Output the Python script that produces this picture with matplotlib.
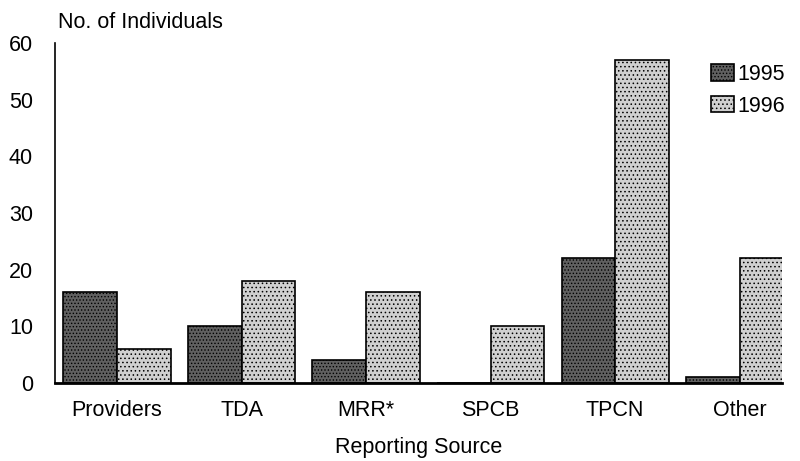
import matplotlib.pyplot as plt
import numpy as np

plt.rcParams['font.family'] = ['Liberation Sans', 'DejaVu Sans']
plt.rcParams['hatch.linewidth'] = 0.6

categories = ['Providers', 'TDA', 'MRR*', 'SPCB', 'TPCN', 'Other']
vals_1995 = [16, 10, 4, 0, 22, 1]
vals_1996 = [6, 18, 16, 10, 57, 22]
yticks = [0, 10, 20, 30, 40, 50, 60]

fs = 15.5

fig = plt.figure(figsize=(8, 4.61), dpi=100)
ax = fig.add_axes([0.069, 0.169, 0.9085, 0.738])

x = np.arange(len(categories))
w = 0.43
ax.bar(x - w / 2, vals_1995, w, facecolor='#606060', edgecolor='black',
       linewidth=1.2, hatch='.....', label='1995')
ax.bar(x + w / 2, vals_1996, w, facecolor='#d0d0d0', edgecolor='black',
       linewidth=1.2, hatch='....', label='1996')

ax.set_xlim(-0.496, 5.34)
ax.set_ylim(0, 60)
ax.set_yticks(yticks)
ax.set_xticks(x)
ax.set_xticklabels(categories, fontsize=fs)
ax.tick_params(axis='y', length=0, labelsize=fs, pad=16)
ax.tick_params(axis='x', length=0, pad=12)
for s in ['top', 'right']:
    ax.spines[s].set_visible(False)
ax.spines['bottom'].set_linewidth(2)
ax.spines['left'].set_linewidth(1.2)

fig.text(0.0725, 0.952, 'No. of Individuals', fontsize=fs, va='center')
ax.set_xlabel('Reporting Source', fontsize=fs, labelpad=12)

ax.legend(loc='upper left', bbox_to_anchor=(0.875, 0.995), frameon=False,
          fontsize=fs, handlelength=1.1, handleheight=0.8,
          handletextpad=0.15, labelspacing=0.5)

fig.savefig('out.png', dpi=100)
